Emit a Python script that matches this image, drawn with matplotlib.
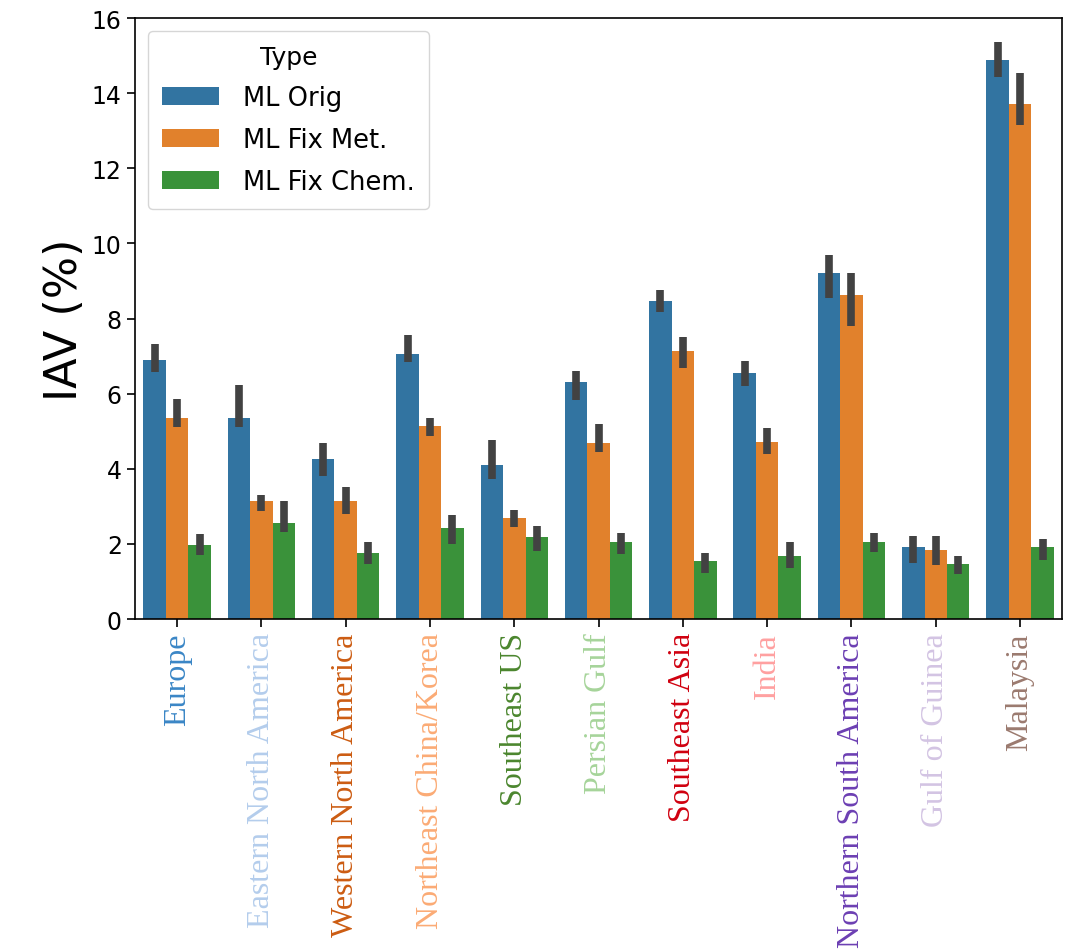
import numpy as np
import matplotlib.pyplot as plt

regions = ["Europe", "Eastern North America", "Western North America",
           "Northeast China/Korea", "Southeast US", "Persian Gulf",
           "Southeast Asia", "India", "Northern South America",
           "Gulf of Guinea", "Malaysia"]
label_colors = ["#3a86c6", "#b4cdec", "#cc5c12", "#fbab75", "#4b862e",
                "#a6d49a", "#d0000f", "#ffa0a0", "#6c3fb3", "#d3c4e3",
                "#9b7a6f"]

types = ["ML Orig", "ML Fix Met.", "ML Fix Chem."]
type_colors = ["#3274a1", "#e1812c", "#3a923a"]

# mean values
ml_orig = [6.90, 5.34, 4.26, 7.05, 4.10, 6.32, 8.48, 6.56, 9.22, 1.92, 14.89]
ml_fix_met = [5.34, 3.14, 3.14, 5.13, 2.70, 4.69, 7.14, 4.71, 8.63, 1.84, 13.71]
ml_fix_chem = [1.97, 2.56, 1.75, 2.42, 2.19, 2.06, 1.55, 1.69, 2.06, 1.47, 1.92]

# confidence intervals (low, high)
orig_lo = [6.57, 5.11, 3.82, 6.83, 3.73, 5.84, 8.18, 6.20, 8.54, 1.49, 14.44]
orig_hi = [7.32, 6.23, 4.69, 7.56, 4.77, 6.60, 8.77, 6.86, 9.68, 2.20, 15.35]
met_lo = [5.11, 2.88, 2.80, 4.88, 2.45, 4.45, 6.68, 4.39, 7.81, 1.45, 13.15]
met_hi = [5.86, 3.30, 3.51, 5.34, 2.91, 5.19, 7.51, 5.09, 9.22, 2.20, 14.54]
chem_lo = [1.70, 2.31, 1.46, 2.00, 1.82, 1.74, 1.23, 1.36, 1.79, 1.20, 1.58]
chem_hi = [2.26, 3.14, 2.04, 2.77, 2.48, 2.28, 1.77, 2.06, 2.28, 1.69, 2.14]

means = [ml_orig, ml_fix_met, ml_fix_chem]
lows = [orig_lo, met_lo, chem_lo]
highs = [orig_hi, met_hi, chem_hi]

fig = plt.figure(figsize=(10.74, 9.53), dpi=100)
ax = fig.add_axes([0.1257, 0.3494, 0.8633, 0.6306])

x = np.arange(len(regions))
w = 0.8 / 3
for i in range(3):
    pos = x - 0.4 + w / 2 + i * w
    m = np.array(means[i])
    err = [m - np.array(lows[i]), np.array(highs[i]) - m]
    ax.bar(pos, m, width=w, color=type_colors[i], label=types[i])
    ax.errorbar(pos, m, yerr=err, fmt="none", ecolor=(0.26, 0.26, 0.26),
                elinewidth=5.5, capsize=0)

ax.set_xlim(-0.5, len(regions) - 0.5)
ax.set_ylim(0, 16)
ax.set_yticks(range(0, 17, 2))
ax.tick_params(axis="y", labelsize=17, length=6, width=1.2)
ax.tick_params(axis="x", length=6, width=1.2)
ax.set_ylabel("IAV (%)", fontsize=32)
ax.set_xticks(x)
ax.set_xticklabels(regions, rotation=90, fontsize=23, family="Liberation Serif")
for lbl, c in zip(ax.get_xticklabels(), label_colors):
    lbl.set_color(c)
for s in ax.spines.values():
    s.set_linewidth(1.2)

ax.legend(title="Type", loc="upper left", fontsize=18.5, title_fontsize=18,
          handlelength=2.2, handletextpad=0.95, labelspacing=0.62,
          borderpad=0.55)

fig.savefig("out.png", dpi=100)
